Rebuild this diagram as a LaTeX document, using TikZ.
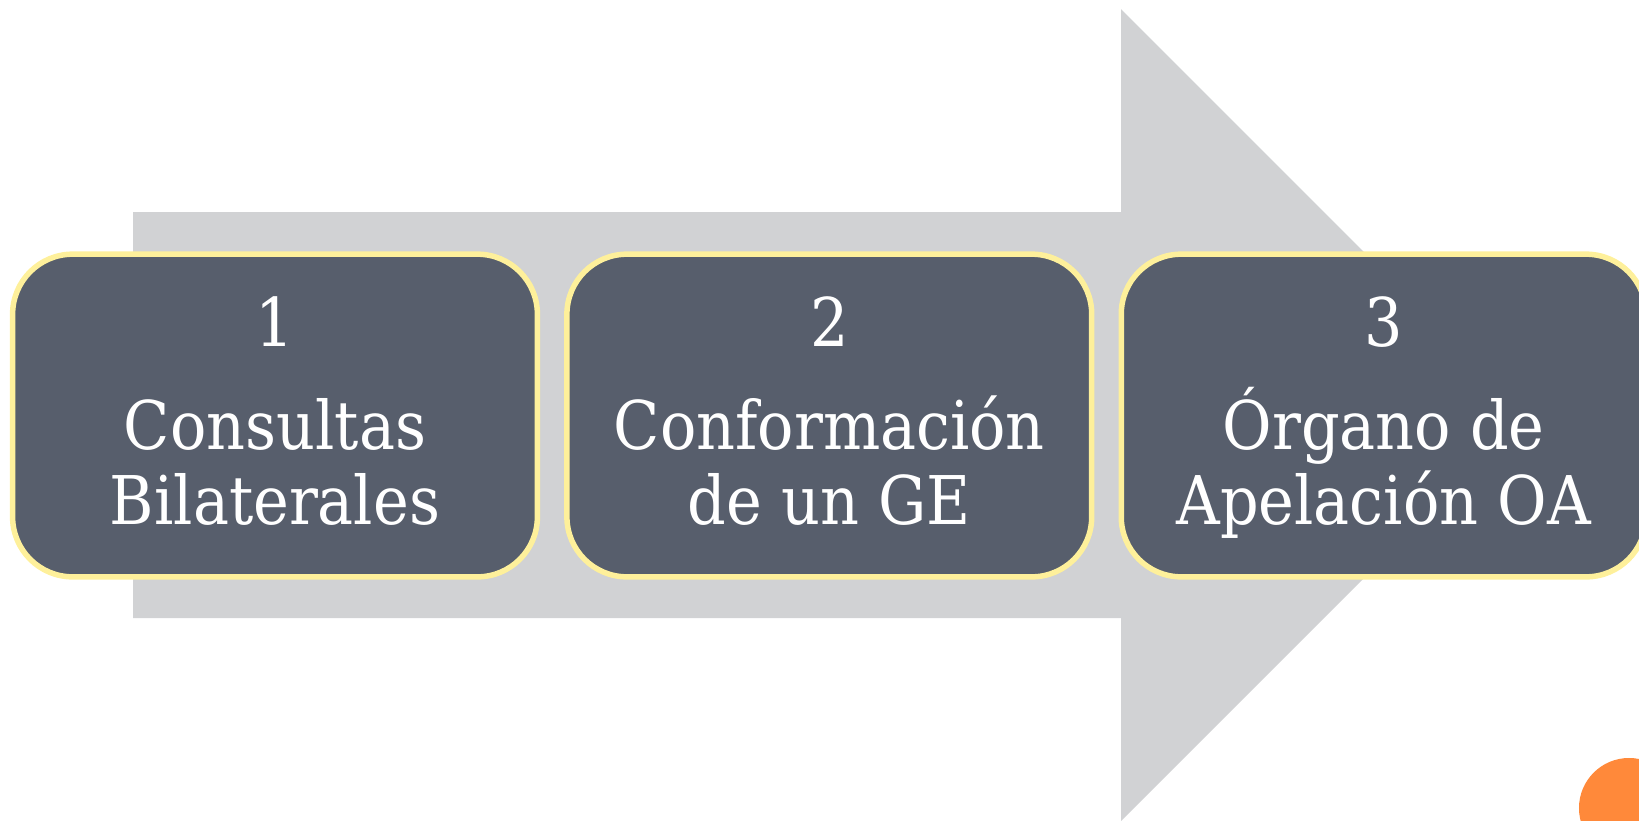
\documentclass[tikz,border=0pt]{standalone}
\usepackage{fontspec}
\setmainfont{DejaVu Serif Condensed}
\usetikzlibrary{positioning}
\definecolor{arrowgray}{RGB}{209,210,212}
\definecolor{boxslate}{RGB}{87,94,108}
\definecolor{boxrim}{RGB}{254,240,155}
\definecolor{dotorange}{RGB}{255,137,58}
\lineskiplimit=-100pt
\newcommand{\numtop}{\rule{0pt}{15.4pt}}
\tikzset{stepbox/.style={draw=boxrim, line width=0.055cm, fill=boxslate,
    rounded corners=0.6cm, minimum width=5.245cm, minimum height=3.225cm,
    inner sep=0pt, text=white, align=center,
    font=\fontsize{19.1}{21.3}\selectfont}}
\begin{document}
\begin{tikzpicture}[x=0.01cm,y=-0.01cm]
\useasboundingbox (0,0) rectangle (1639,820);
\clip (0,0) rectangle (1639,820);

% the big arrow behind the steps
\fill[arrowgray] (133,212) -- (1121,212) -- (1121,9) -- (1527,415)
    -- (1121,821) -- (1121,618) -- (133,618) -- cycle;

% corner dot
\fill[dotorange] (1629,808) circle [radius=0.5cm];

% steps
\node[stepbox] (consult) at (275,415.5) {\numtop 1\\[8pt]Consultas\\Bilaterales\vphantom{p}};
\node[stepbox, right=0.24cm of consult] (grupo) {\numtop 2\\[8pt]Conformación\\de un GE\vphantom{p}};
\node[stepbox, right=0.24cm of grupo] (organo) {\numtop 3\\[8pt]Órgano de\\Apelación OA};

\end{tikzpicture}
\end{document}
